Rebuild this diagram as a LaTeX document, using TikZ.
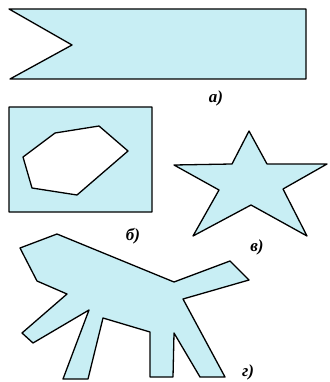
\documentclass[tikz,border=0pt]{standalone}
\usepackage{fontspec}
\setmainfont{Liberation Serif}
\definecolor{shade}{RGB}{200,238,244}

\begin{document}
\begin{tikzpicture}[x=1pt, y=-1pt,
    piece/.style={draw=black, fill=shade, line width=1.3pt, line join=round},
    tag/.style={font=\fontsize{17}{17}\selectfont\bfseries\itshape, inner sep=0pt}]
    \useasboundingbox (0,0) rectangle (329,382);

    % a) flag
    \draw[piece] (9,9) -- (306,9) -- (306,79) -- (10,79) -- (72,45) -- cycle;
    \node[tag] (la) at (216,98) {а)};

    % b) frame with a hole
    \draw[piece, even odd rule] (9,107) rectangle (152,212)
      (23,157) -- (55,133) -- (99,126) -- (128,151) -- (77,195) -- (32,188) -- cycle;
    \node[tag] (lb) at (133,236) {б)};

    % c) star
    \draw[piece] (249,131) -- (267,164) -- (327,164) -- (283,189) -- (307,236)
      -- (251,205) -- (193,236) -- (219,190) -- (174,165) -- (232,164) -- cycle;
    \node[tag] (lc) at (257,247) {в)};

    % d) animal
    \draw[piece] (20,248) -- (37,281) -- (67,294) -- (22,333) -- (33,343) -- (89,310)
      -- (63,379) -- (88,379) -- (103,318) -- (150,332) -- (150,377) -- (173,377)
      -- (174,333) -- (200,377) -- (225,377) -- (183,299) -- (249,280) -- (230,261)
      -- (174,282) -- (57,234) -- cycle;
    \node[tag] (ld) at (248,372) {г)};
\end{tikzpicture}
\end{document}
